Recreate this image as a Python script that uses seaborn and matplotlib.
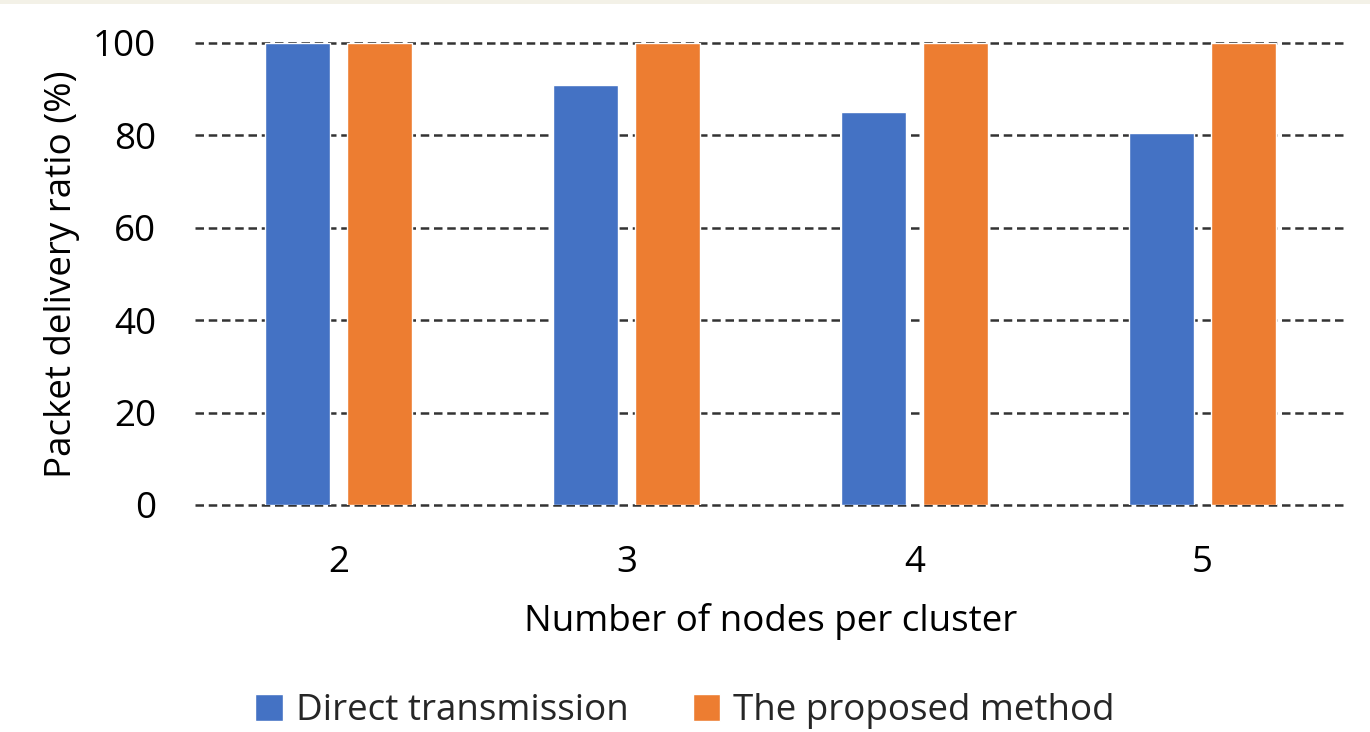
import matplotlib
matplotlib.use("Agg")
import matplotlib.pyplot as plt
from matplotlib.patches import Rectangle
import pandas as pd
import seaborn as sns

# Packet delivery ratio per cluster size
nodes_per_cluster = ["2", "3", "4", "5"]
direct_transmission = [100, 91, 85, 80.5]
proposed_method = [100, 100, 100, 100]
series_names = ["Direct transmission", "The proposed method"]
y_ticks = [0, 20, 40, 60, 80, 100]

df = pd.DataFrame({
    "nodes": nodes_per_cluster * 2,
    "ratio": direct_transmission + proposed_method,
    "series": [series_names[0]] * len(nodes_per_cluster)
              + [series_names[1]] * len(nodes_per_cluster),
})

sns.set_theme(style="white")
plt.rcParams["font.family"] = ["Open Sans", "DejaVu Sans"]

FS = 26.5

fig = plt.figure(figsize=(13.7, 7.32), dpi=100)
fig.patch.set_facecolor("white")
# thin cream band along the top edge
fig.patches.append(Rectangle((0, 1 - 4 / 732), 1, 4 / 732, transform=fig.transFigure,
                             facecolor="#F3F1E7", edgecolor="none", zorder=-1))

ax = fig.add_axes([195 / 1370, 1 - 505 / 732, (1346 - 195) / 1370, (505 - 43) / 732])

sns.barplot(data=df, x="nodes", y="ratio", hue="series", order=nodes_per_cluster,
            hue_order=series_names, palette=["#4472C4", "#ED7D31"],
            width=0.57, gap=0.21, saturation=1, ax=ax, legend=True)

ax.set_ylim(0, 100)
ax.set_xlim(-0.5, len(nodes_per_cluster) - 0.5)
ax.set_yticks(y_ticks)
ax.set_yticklabels([str(v) for v in y_ticks])
ax.set_axisbelow(True)
ax.yaxis.grid(True, color="#333333", linestyle=(0, (3.4, 1.9)), linewidth=1.8, clip_on=False)
ax.xaxis.grid(False)
for s in ax.spines.values():
    s.set_visible(False)

ax.tick_params(axis="both", length=0, labelsize=FS, colors="black")
ax.tick_params(axis="y", pad=28)
ax.tick_params(axis="x", pad=29)

ax.set_xlabel("Number of nodes per cluster", fontsize=FS, labelpad=16, color="black")
ax.set_ylabel("Packet delivery ratio (%)", fontsize=FS, labelpad=9, color="black")

handles, labels = ax.get_legend_handles_labels()
ax.legend_.remove()
fig.legend(handles, labels, loc="center", bbox_to_anchor=(0.5, 1 - 711 / 732),
           ncol=2, frameon=False, fontsize=FS, handlelength=0.75, handleheight=0.75,
           handletextpad=0.35, columnspacing=1.75)

fig.savefig("out.png", dpi=100)
